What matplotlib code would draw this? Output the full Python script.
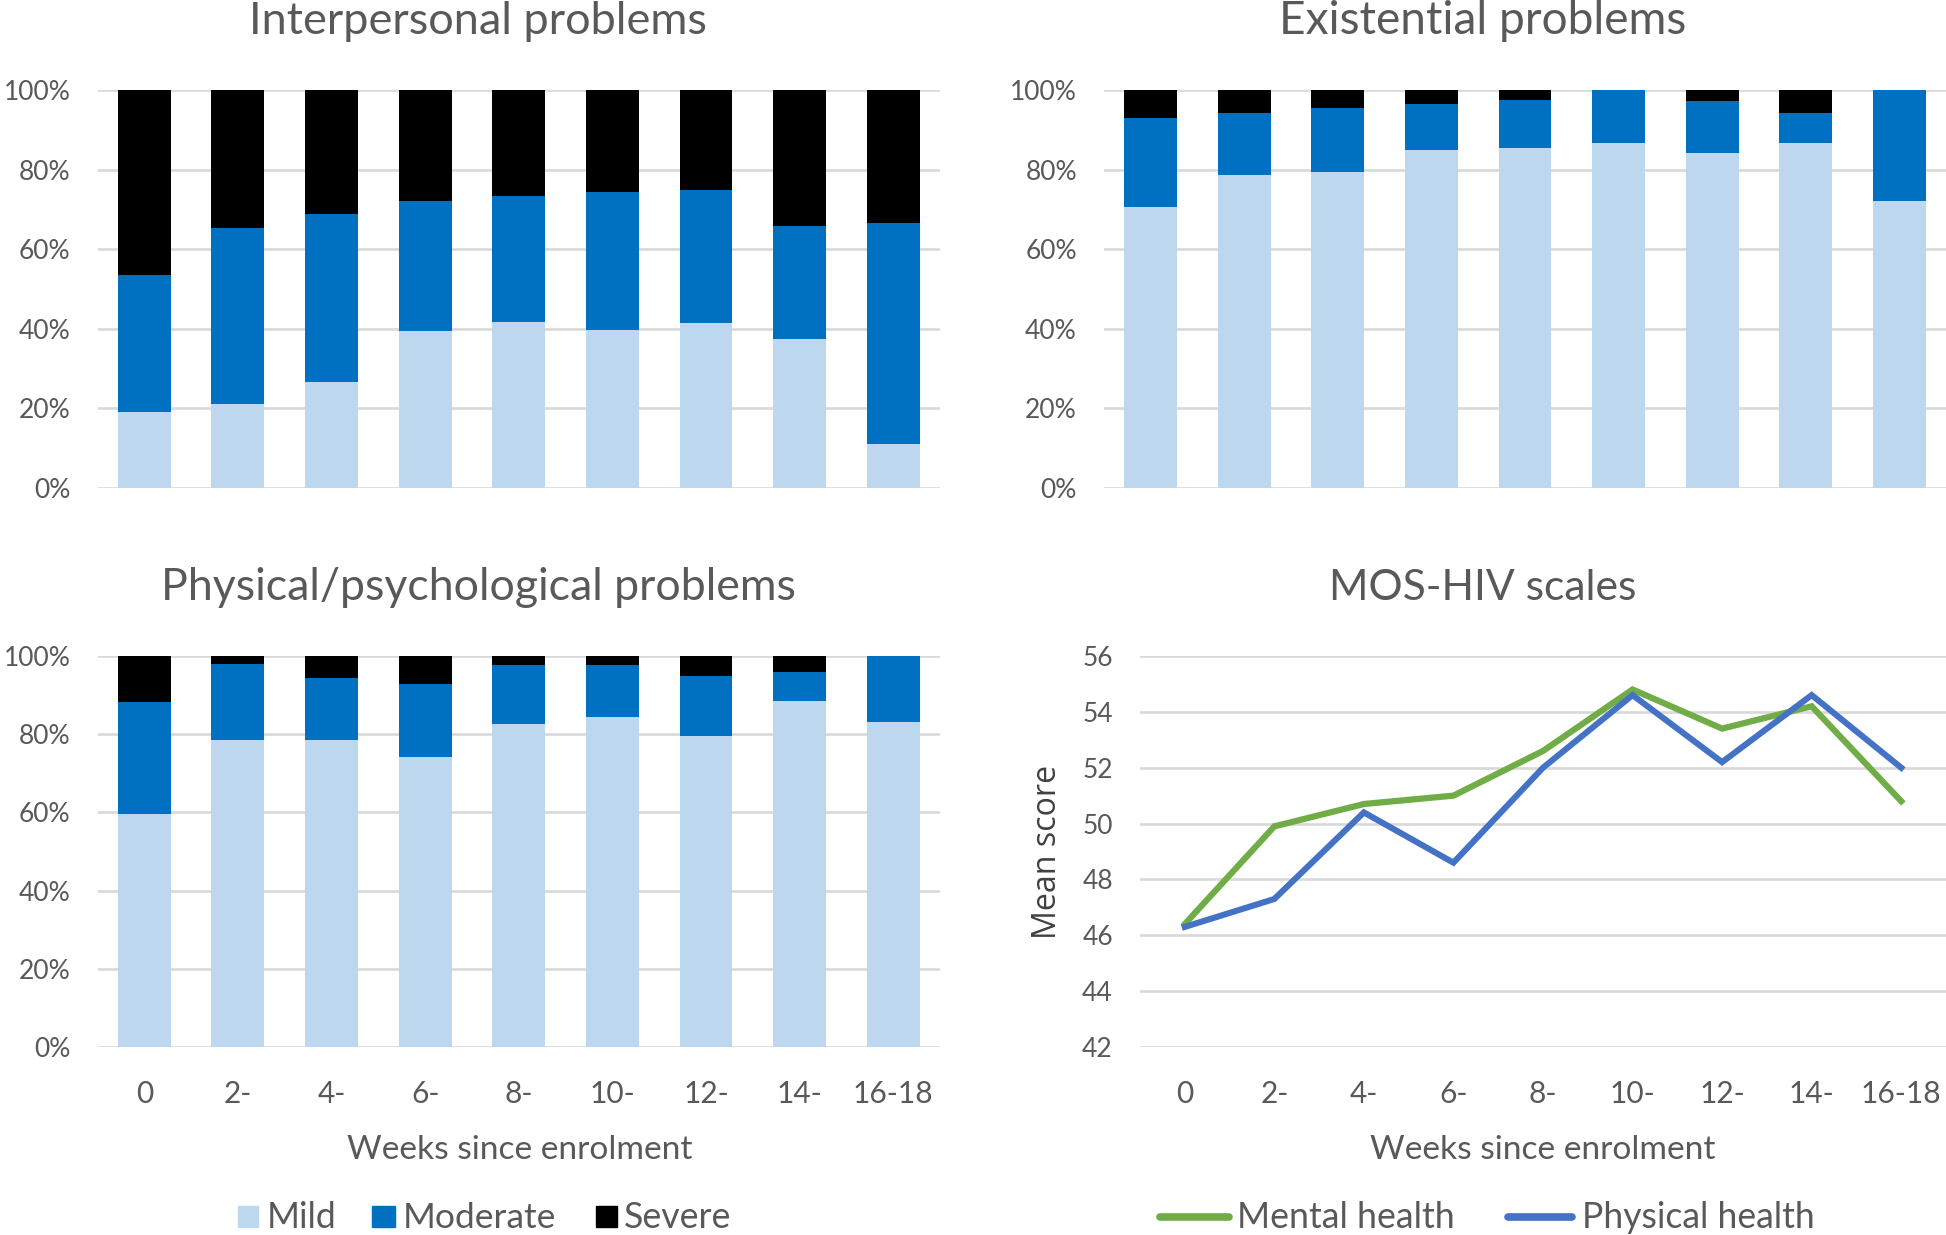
import matplotlib
matplotlib.use('Agg')
import matplotlib.pyplot as plt
from matplotlib.patches import Rectangle
from matplotlib.lines import Line2D
from matplotlib.ticker import FuncFormatter

# ---------------- data ----------------
weeks = ['0', '2-', '4-', '6-', '8-', '10-', '12-', '14-', '16-18']
severity = ['Mild', 'Moderate', 'Severe']

inter_mild     = [19.0, 21.1, 26.7, 39.5, 41.8, 39.7, 41.4, 37.5, 11.0]
inter_moderate = [34.6, 44.2, 42.1, 32.6, 31.6, 34.6, 33.4, 28.4, 55.5]
inter_severe   = [46.4, 34.7, 31.2, 27.9, 26.6, 25.7, 25.2, 34.1, 33.5]

exist_mild     = [70.6, 78.7, 79.4, 84.9, 85.5, 86.7, 84.2, 86.7, 72.1]
exist_moderate = [22.4, 15.4, 16.2, 11.5, 11.9, 13.3, 13.0, 7.5, 27.9]
exist_severe   = [7.0, 5.9, 4.4, 3.6, 2.6, 0.0, 2.8, 5.8, 0.0]

phys_mild      = [59.7, 78.6, 78.6, 74.2, 82.5, 84.5, 79.5, 88.5, 83.1]
phys_moderate  = [28.6, 19.3, 15.9, 18.6, 15.2, 13.3, 15.4, 7.5, 16.9]
phys_severe    = [11.7, 2.1, 5.5, 7.2, 2.3, 2.2, 5.1, 4.0, 0.0]

mos_mental   = [46.4, 49.9, 50.7, 51.0, 52.6, 54.8, 53.4, 54.2, 50.8]
mos_physical = [46.3, 47.3, 50.4, 48.6, 52.0, 54.6, 52.2, 54.6, 52.0]
line_labels = ['Mental health', 'Physical health']

# ---------------- style ----------------
W, H = 1946, 1235
FONT = ['Lato', 'DejaVu Sans']
plt.rcParams['font.family'] = FONT
TXT = '#595959'
GRID = '#D9D9D9'
C_MILD, C_MOD, C_SEV = '#BDD7EE', '#0070C0', '#000000'
C_GREEN, C_BLUE = '#70AD47', '#4472C4'
YT_SIZE = 20.5

fig = plt.figure(figsize=(W / 100, H / 100), dpi=100)
renderer = fig.canvas.get_renderer()


def px_axes(x0, x1, y0, y1):
    return fig.add_axes([x0 / W, 1 - y1 / H, (x1 - x0) / W, (y1 - y0) / H])


def style_axes(ax):
    for s in ax.spines.values():
        s.set_visible(False)
    ax.set_axisbelow(True)
    ax.yaxis.grid(True, color=GRID, linewidth=1.9)
    ax.tick_params(length=0, colors=TXT)
    ax.tick_params(axis='y', pad=19.5, labelsize=YT_SIZE)
    ax.tick_params(axis='x', pad=24, labelsize=21.5)
    ax.set_xlim(-0.5, len(weeks) - 0.5)
    ax.set_xticks(range(len(weeks)))


def fit_text(x, y, s, target_w, size0=24, **kw):
    t = fig.text(x / W, 1 - y / H, s, fontsize=size0, **kw)
    w = t.get_window_extent(renderer).width
    t.set_fontsize(size0 * target_w / w)
    return t


def stacked(ax, mild, mod, sev, show_x):
    x = range(len(weeks))
    bw = 0.565
    ax.bar(x, mild, bw, color=C_MILD, label=severity[0])
    ax.bar(x, mod, bw, bottom=mild, color=C_MOD, label=severity[1])
    b2 = [a + b for a, b in zip(mild, mod)]
    ax.bar(x, sev, bw, bottom=b2, color=C_SEV, label=severity[2])
    style_axes(ax)
    ax.set_ylim(0, 100)
    ax.set_yticks(range(0, 101, 20))
    ax.yaxis.set_major_formatter(FuncFormatter(lambda v, p: f'{v:.0f}%'))
    if show_x:
        ax.set_xticklabels(weeks)
    else:
        ax.set_xticklabels([])


ax1 = px_axes(97.5, 940, 90, 488)
stacked(ax1, inter_mild, inter_moderate, inter_severe, False)
ax2 = px_axes(1104, 1946, 90, 488)
stacked(ax2, exist_mild, exist_moderate, exist_severe, False)
ax3 = px_axes(97.5, 940, 656, 1047)
stacked(ax3, phys_mild, phys_moderate, phys_severe, True)

ax4 = px_axes(1140, 1946, 656, 1047)
style_axes(ax4)
ax4.plot(range(len(weeks)), mos_mental, color=C_GREEN, lw=4.5, solid_joinstyle='miter', label=line_labels[0])
ax4.plot(range(len(weeks)), mos_physical, color=C_BLUE, lw=4.4, solid_joinstyle='miter', label=line_labels[1])
ax4.set_ylim(42, 56)
ax4.set_yticks(range(42, 57, 2))
ax4.set_xticklabels(weeks)

# keep the widest y tick label ("100%") inside the figure
fig.canvas.draw()
min_x0 = min(lab.get_window_extent(renderer).x0 for lab in ax1.get_yticklabels())
if min_x0 < 3:
    lab_w = max(lab.get_window_extent(renderer).width for lab in ax1.get_yticklabels())
    new_size = YT_SIZE * (lab_w - (3 - min_x0)) / lab_w
    for ax in (ax1, ax2, ax3, ax4):
        ax.tick_params(axis='y', labelsize=new_size)

# titles
fit_text(478, 34, 'Interpersonal problems', 460, color=TXT, ha='center', va='baseline')
fit_text(1483, 34, 'Existential problems', 408, color=TXT, ha='center', va='baseline')
fit_text(478, 600, 'Physical/psychological problems', 637, color=TXT, ha='center', va='baseline')
fit_text(1483, 600, 'MOS-HIV scales', 308, color=TXT, ha='center', va='baseline')

# axis labels
fit_text(520, 1159, 'Weeks since enrolment', 345, color=TXT, ha='center', va='baseline')
fit_text(1543, 1159, 'Weeks since enrolment', 345, color=TXT, ha='center', va='baseline')
t = fig.text(1047 / W, 1 - 852 / H, 'Mean score', fontsize=22, rotation=90,
             color='#404040', ha='center', va='center', family=['Open Sans', 'DejaVu Sans'])
h = t.get_window_extent(renderer).height
t.set_fontsize(22 * 174 / h)

# legend (left)
leg_y0, leg_y1 = 1206, 1227
for (px0, px1, col, lab, tx, tw) in [(238, 258, C_MILD, severity[0], 267, 70),
                                     (372, 395, C_MOD, severity[1], 403, 153),
                                     (596, 617, C_SEV, severity[2], 624, 107)]:
    fig.add_artist(Rectangle((px0 / W, 1 - leg_y1 / H), (px1 - px0) / W, (leg_y1 - leg_y0) / H,
                             transform=fig.transFigure, color=col))
    fit_text(tx, 1228, lab, tw, color=TXT, ha='left', va='baseline')

# legend (right)
for (lx0, lx1, col, lab, tx, tw) in [(1160, 1229, C_GREEN, line_labels[0], 1237, 218),
                                     (1508, 1572, C_BLUE, line_labels[1], 1582, 233)]:
    fig.add_artist(Line2D([lx0 / W, lx1 / W], [1 - 1216.5 / H, 1 - 1216.5 / H], transform=fig.transFigure,
                          color=col, lw=5.5, solid_capstyle='round'))
    fit_text(tx, 1228, lab, tw, color=TXT, ha='left', va='baseline')

fig.savefig('out.png', dpi=100, facecolor='white')
